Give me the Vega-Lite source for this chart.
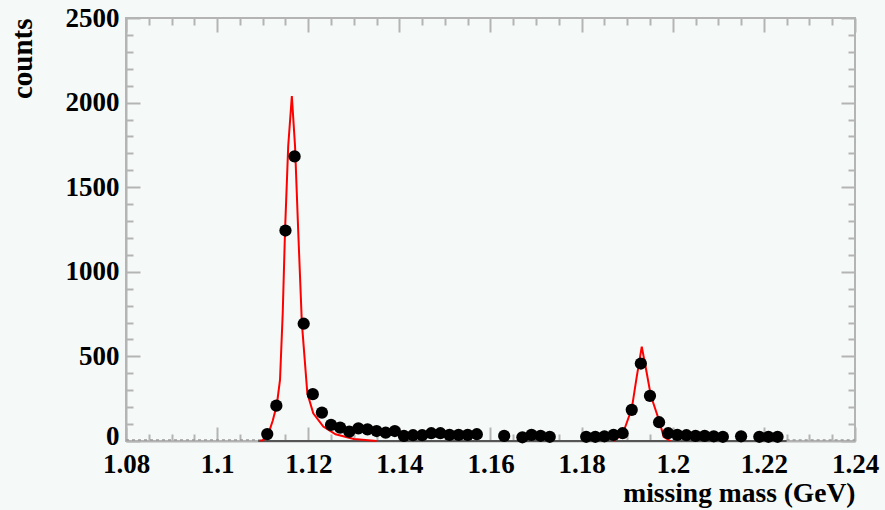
{
  "$schema": "https://vega.github.io/schema/vega-lite/v6.json",
  "width": 729,
  "height": 423,
  "autosize": {"type": "none"},
  "padding": {"left": 126, "top": 18, "right": 30, "bottom": 69},
  "background": "#f5f9f7",
  "config": {
    "view": {"stroke": "#b4b4b4", "strokeWidth": 2, "fill": "#f5f9f7"},
    "font": "Liberation Serif"
  },
  "datasets": {
    "points": [
      {"mass": 1.111, "counts": 41}, {"mass": 1.113, "counts": 209}, {"mass": 1.115, "counts": 1244},
      {"mass": 1.117, "counts": 1682}, {"mass": 1.119, "counts": 693}, {"mass": 1.121, "counts": 277},
      {"mass": 1.123, "counts": 168}, {"mass": 1.125, "counts": 95}, {"mass": 1.127, "counts": 79},
      {"mass": 1.129, "counts": 55}, {"mass": 1.131, "counts": 75}, {"mass": 1.133, "counts": 69},
      {"mass": 1.135, "counts": 59}, {"mass": 1.137, "counts": 49}, {"mass": 1.139, "counts": 59},
      {"mass": 1.141, "counts": 30}, {"mass": 1.143, "counts": 34}, {"mass": 1.145, "counts": 34},
      {"mass": 1.147, "counts": 46}, {"mass": 1.149, "counts": 46}, {"mass": 1.151, "counts": 36},
      {"mass": 1.153, "counts": 36}, {"mass": 1.155, "counts": 36}, {"mass": 1.157, "counts": 40},
      {"mass": 1.163, "counts": 30}, {"mass": 1.167, "counts": 22}, {"mass": 1.169, "counts": 36},
      {"mass": 1.171, "counts": 31}, {"mass": 1.173, "counts": 25}, {"mass": 1.181, "counts": 25},
      {"mass": 1.183, "counts": 25}, {"mass": 1.185, "counts": 28}, {"mass": 1.187, "counts": 36},
      {"mass": 1.189, "counts": 46}, {"mass": 1.191, "counts": 184}, {"mass": 1.193, "counts": 458},
      {"mass": 1.195, "counts": 267}, {"mass": 1.197, "counts": 111}, {"mass": 1.199, "counts": 46},
      {"mass": 1.201, "counts": 36}, {"mass": 1.203, "counts": 34}, {"mass": 1.205, "counts": 30},
      {"mass": 1.207, "counts": 30}, {"mass": 1.209, "counts": 28}, {"mass": 1.211, "counts": 25},
      {"mass": 1.215, "counts": 28}, {"mass": 1.219, "counts": 25}, {"mass": 1.221, "counts": 25},
      {"mass": 1.223, "counts": 25}
    ],
    "fit": [
      {"peak": "A", "mass": 1.1095, "counts": 0}, {"peak": "A", "mass": 1.1105, "counts": 10},
      {"peak": "A", "mass": 1.1113, "counts": 47}, {"peak": "A", "mass": 1.1122, "counts": 120},
      {"peak": "A", "mass": 1.1131, "counts": 213}, {"peak": "A", "mass": 1.1138, "counts": 361},
      {"peak": "A", "mass": 1.1144, "counts": 757}, {"peak": "A", "mass": 1.1149, "counts": 1239},
      {"peak": "A", "mass": 1.1156, "counts": 1742}, {"peak": "A", "mass": 1.1164, "counts": 2038},
      {"peak": "A", "mass": 1.1171, "counts": 1742}, {"peak": "A", "mass": 1.1178, "counts": 1239},
      {"peak": "A", "mass": 1.1186, "counts": 697}, {"peak": "A", "mass": 1.1198, "counts": 282},
      {"peak": "A", "mass": 1.1211, "counts": 164}, {"peak": "A", "mass": 1.1233, "counts": 85},
      {"peak": "A", "mass": 1.126, "counts": 40}, {"peak": "A", "mass": 1.13, "counts": 12},
      {"peak": "A", "mass": 1.135, "counts": 0},
      {"peak": "B", "mass": 1.187, "counts": 0}, {"peak": "B", "mass": 1.189, "counts": 40},
      {"peak": "B", "mass": 1.191, "counts": 190}, {"peak": "B", "mass": 1.1921, "counts": 380},
      {"peak": "B", "mass": 1.1932, "counts": 558}, {"peak": "B", "mass": 1.1942, "counts": 415},
      {"peak": "B", "mass": 1.1952, "counts": 267}, {"peak": "B", "mass": 1.1971, "counts": 114},
      {"peak": "B", "mass": 1.198, "counts": 25}, {"peak": "B", "mass": 1.1995, "counts": 0}
    ],
    "baseline": [
      {"part": "zero", "mass": 1.109, "counts": 0}, {"part": "zero", "mass": 1.225, "counts": 0}
    ],
    "noise": [
      {"part": "L", "mass": 1.08, "counts": 6}, {"part": "L", "mass": 1.11, "counts": 6},
      {"part": "R", "mass": 1.225, "counts": 6}, {"part": "R", "mass": 1.24, "counts": 6}
    ]
  },
  "layer": [
    {
      "data": {"name": "points"},
      "mark": {"type": "point", "opacity": 0},
      "encoding": {
        "x": {
          "field": "mass", "type": "quantitative",
          "scale": {"domain": [1.08, 1.24], "nice": false, "zero": false},
          "axis": {
            "orient": "top", "labels": false, "title": null, "grid": false, "domain": false,
            "values": [1.08,1.085,1.09,1.095,1.1,1.105,1.11,1.115,1.12,1.125,1.13,1.135,1.14,1.145,1.15,1.155,1.16,1.165,1.17,1.175,1.18,1.185,1.19,1.195,1.2,1.205,1.21,1.215,1.22,1.225,1.23,1.235,1.24],
            "tickColor": "#b4b4b4", "tickWidth": 2,
            "tickSize": {"condition": {"test": "abs(datum.value*50 - round(datum.value*50)) < 0.001", "value": -14}, "value": -7}
          }
        },
        "y": {
          "field": "counts", "type": "quantitative",
          "scale": {"domain": [0, 2500], "nice": false},
          "axis": {
            "orient": "right", "labels": false, "title": null, "grid": false, "domain": false,
            "values": [0,100,200,300,400,500,600,700,800,900,1000,1100,1200,1300,1400,1500,1600,1700,1800,1900,2000,2100,2200,2300,2400,2500],
            "tickColor": "#b4b4b4", "tickWidth": 2,
            "tickSize": {"condition": {"test": "datum.value % 500 === 0", "value": -14}, "value": -7}
          }
        }
      }
    },
    {
      "data": {"name": "noise"},
      "mark": {"type": "line", "color": "#9a9a9a", "strokeWidth": 1.5, "strokeDash": [3, 3]},
      "encoding": {
        "x": {"field": "mass", "type": "quantitative", "axis": null},
        "y": {"field": "counts", "type": "quantitative", "axis": null},
        "detail": {"field": "part"}
      }
    },
    {
      "data": {"name": "baseline"},
      "mark": {"type": "line", "color": "#555555", "strokeWidth": 2},
      "encoding": {
        "x": {"field": "mass", "type": "quantitative", "axis": null},
        "y": {"field": "counts", "type": "quantitative", "axis": null}
      }
    },
    {
      "data": {"name": "fit"},
      "mark": {"type": "line", "color": "#ff0000", "strokeWidth": 2},
      "encoding": {
        "x": {"field": "mass", "type": "quantitative", "axis": null},
        "y": {"field": "counts", "type": "quantitative", "axis": null},
        "detail": {"field": "peak"}
      }
    },
    {
      "data": {"name": "points"},
      "mark": {"type": "circle", "color": "#000000", "opacity": 1, "size": 150},
      "encoding": {
        "x": {
          "field": "mass", "type": "quantitative",
          "axis": {
            "orient": "bottom", "grid": false,
            "values": [1.08,1.085,1.09,1.095,1.1,1.105,1.11,1.115,1.12,1.125,1.13,1.135,1.14,1.145,1.15,1.155,1.16,1.165,1.17,1.175,1.18,1.185,1.19,1.195,1.2,1.205,1.21,1.215,1.22,1.225,1.23,1.235,1.24],
            "labelExpr": "abs(datum.value*50 - round(datum.value*50)) < 0.001 ? format(datum.value, '.2~f') : ''",
            "tickColor": "#b4b4b4", "tickWidth": 2,
            "tickSize": {"condition": {"test": "abs(datum.value*50 - round(datum.value*50)) < 0.001", "value": -14}, "value": -7},
            "domainColor": "#b4b4b4", "domainWidth": 2,
            "labelFont": "Liberation Serif", "labelFontWeight": "bold", "labelFontSize": 27, "labelColor": "#000000",
            "labelPadding": 24, "labelOverlap": false, "labelFlush": false,
            "title": "missing mass (GeV)", "titleFont": "Liberation Serif", "titleFontWeight": "bold",
            "titleFontSize": 27.5, "titleColor": "#000000",
            "titleAnchor": "end", "titleAlign": "right", "titleX": 729, "titleY": 60, "titleBaseline": "alphabetic"
          }
        },
        "y": {
          "field": "counts", "type": "quantitative",
          "axis": {
            "orient": "left", "grid": false,
            "values": [0,100,200,300,400,500,600,700,800,900,1000,1100,1200,1300,1400,1500,1600,1700,1800,1900,2000,2100,2200,2300,2400,2500],
            "labelExpr": "datum.value % 500 === 0 ? format(datum.value, 'd') : ''",
            "tickColor": "#b4b4b4", "tickWidth": 2,
            "tickSize": {"condition": {"test": "datum.value % 500 === 0", "value": -14}, "value": -7},
            "domainColor": "#b4b4b4", "domainWidth": 2,
            "labelFont": "Liberation Serif", "labelFontWeight": "bold", "labelFontSize": 27, "labelColor": "#000000",
            "labelPadding": 21, "labelOverlap": false, "labelFlush": false,
            "labelOffset": {"condition": {"test": "datum.value === 0", "value": -5}, "value": 0},
            "title": "counts", "titleFont": "Liberation Serif", "titleFontWeight": "bold",
            "titleFontSize": 29, "titleColor": "#000000",
            "titleAngle": -90, "titleX": -104, "titleY": 0, "titleAlign": "right", "titleBaseline": "middle"
          }
        }
      }
    }
  ],
  "resolve": {"axis": {"x": "independent", "y": "independent"}}
}
